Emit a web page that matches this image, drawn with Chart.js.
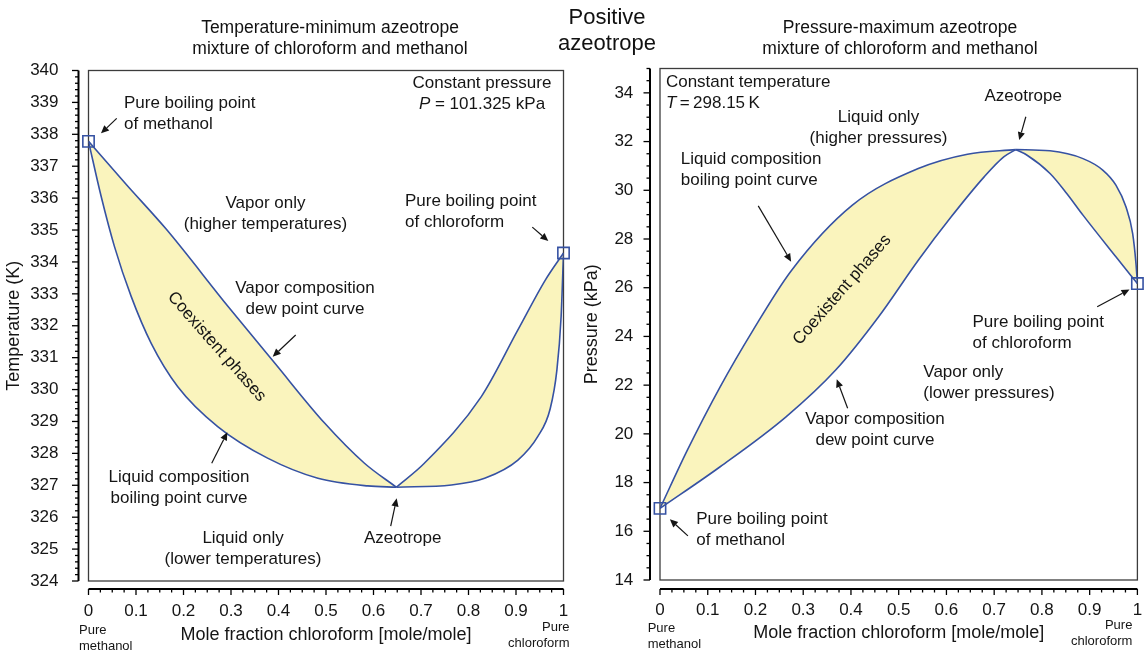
<!DOCTYPE html>
<html><head><meta charset="utf-8">
<script src="https://cdn.jsdelivr.net/npm/chart.js@4/dist/chart.umd.min.js"></script>
<style>
html,body{margin:0;padding:0;background:#fff;width:1147px;height:658px;overflow:hidden;font-family:'Liberation Sans',Arial,sans-serif;color:#111}
.t{position:absolute;text-align:center;white-space:nowrap;transform:translateX(-50%);z-index:3}
canvas{position:absolute;top:0}
#c1{left:0}
#c2{left:575px}
</style></head><body>
<canvas id="c1" width="575" height="658"></canvas>
<canvas id="c2" width="572" height="658"></canvas>
<div class="t" style="left:607px;top:4px;font-size:22px;line-height:26px">Positive<br>azeotrope</div>
<div class="t" style="left:330px;top:17px;font-size:17.5px;line-height:21px">Temperature-minimum azeotrope<br>mixture of chloroform and methanol</div>
<div class="t" style="left:900px;top:17px;font-size:17.5px;line-height:21px">Pressure-maximum azeotrope<br>mixture of chloroform and methanol</div>
<script>
// ---------- tick values / labels ----------
const xTicks = [0, 0.1, 0.2, 0.3, 0.4, 0.5, 0.6, 0.7, 0.8, 0.9, 1];
const xTickLabels = ['0', '0.1', '0.2', '0.3', '0.4', '0.5', '0.6', '0.7', '0.8', '0.9', '1'];
const tTicks = [324, 325, 326, 327, 328, 329, 330, 331, 332, 333, 334, 335, 336, 337, 338, 339, 340];
const tTickLabels = ['324', '325', '326', '327', '328', '329', '330', '331', '332', '333', '334', '335', '336', '337', '338', '339', '340'];
const pTicks = [14, 16, 18, 20, 22, 24, 26, 28, 30, 32, 34];
const pTickLabels = ['14', '16', '18', '20', '22', '24', '26', '28', '30', '32', '34'];

// ---------- left chart: T-x-y at 101.325 kPa ----------
// liquid (bubble point) curve, methanol side of azeotrope
const tLiqX_L = [0, 0.0267, 0.0547, 0.0898, 0.132, 0.188, 0.272, 0.377, 0.483, 0.588, 0.648];
const tLiqT_L = [337.78, 336.05, 334.48, 332.92, 331.45, 330.09, 328.84, 327.85, 327.22, 326.98, 326.94];
// vapor (dew point) curve, methanol side
const tVapX_L = [0, 0.080, 0.1635, 0.293, 0.392, 0.497, 0.581, 0.648];
const tVapT_L = [337.78, 336.42, 335.03, 332.62, 330.83, 328.95, 327.69, 326.94];
// liquid curve, chloroform side
const tLiqX_R = [0.648, 0.764, 0.834, 0.904, 0.946, 0.972, 0.986, 0.995, 1];
const tLiqT_R = [326.94, 327.01, 327.22, 327.79, 328.53, 329.40, 330.60, 332.29, 334.28];
// vapor curve, chloroform side
const tVapX_R = [0.648, 0.707, 0.827, 0.904, 0.962, 1];
const tVapT_R = [326.94, 327.69, 329.78, 331.87, 333.44, 334.28];
// pure component boiling points
const tPureX = [0, 1];
const tPureT = [337.78, 334.28];

// ---------- right chart: P-x-y at 298.15 K ----------
const pLiqX_L = [0, 0.0573, 0.126, 0.195, 0.275, 0.403, 0.541, 0.644, 0.745];
const pLiqP_L = [16.94, 19.33, 21.93, 24.26, 26.70, 29.39, 30.89, 31.48, 31.67];
const pVapX_L = [0, 0.126, 0.264, 0.368, 0.458, 0.541, 0.610, 0.679, 0.720, 0.745];
const pVapP_L = [16.94, 18.65, 20.70, 22.62, 24.81, 27.13, 28.91, 30.55, 31.37, 31.67];
const pLiqX_R = [0.745, 0.817, 0.886, 0.928, 0.955, 0.976, 0.990, 0.997, 1];
const pLiqP_R = [31.67, 31.62, 31.30, 30.82, 30.21, 29.32, 28.23, 27.0, 26.17];
const pVapX_R = [0.745, 0.769, 0.817, 0.852, 0.886, 0.955, 1];
const pVapP_R = [31.67, 31.44, 30.69, 29.87, 28.98, 27.27, 26.17];
const pPureX = [0, 1];
const pPureP = [16.94, 26.17];

// ---------- annotations (data coordinates) ----------
const tNotes = [
  {lines: ['Pure boiling point', 'of methanol'], x: 0.0747, y: 338.64, align: 'left'},
  {lines: ['Constant pressure', [['P', 'italic '], [' = 101.325 kPa', '']]], x: 0.8284, y: 339.26, align: 'center'},
  {lines: ['Vapor only', '(higher temperatures)'], x: 0.3726, y: 335.51, align: 'center'},
  {lines: ['Pure boiling point', 'of chloroform'], x: 0.6663, y: 335.56, align: 'left'},
  {lines: ['Vapor composition', 'dew point curve'], x: 0.4558, y: 332.84, align: 'center'},
  {lines: ['Coexistent phases'], x: 0.2699, y: 331.34, align: 'center', rot: 48.7},
  {lines: ['Liquid composition', 'boiling point curve'], x: 0.1905, y: 326.91, align: 'center'},
  {lines: ['Liquid only', '(lower temperatures)'], x: 0.3253, y: 325.01, align: 'center'},
  {lines: ['Azeotrope'], x: 0.6615, y: 325.34, align: 'center'}
];
const tArrows = [
  [0.0594, 338.50, 0.0263, 338.03],
  [0.9343, 335.09, 0.968, 334.66],
  [0.4362, 331.71, 0.3878, 331.03],
  [0.2594, 327.69, 0.2922, 328.66],
  [0.6362, 325.72, 0.6488, 326.59]
];
const pNotes = [
  {lines: ['Constant temperature', [['T', 'italic '], ['\u2009=\u2009298.15\u2009K', '']]], x: 0.0124, y: 33.99, align: 'left'},
  {lines: ['Liquid only', '(higher pressures)'], x: 0.4577, y: 32.55, align: 'center'},
  {lines: ['Azeotrope'], x: 0.7607, y: 33.87, align: 'center'},
  {lines: ['Liquid composition', 'boiling point curve'], x: 0.0434, y: 30.85, align: 'left'},
  {lines: ['Coexistent phases'], x: 0.3816, y: 25.91, align: 'center', rot: -49},
  {lines: ['Pure boiling point', 'of chloroform'], x: 0.6546, y: 24.14, align: 'left'},
  {lines: ['Vapor only', '(lower pressures)'], x: 0.5516, y: 22.09, align: 'left'},
  {lines: ['Vapor composition', 'dew point curve'], x: 0.4503, y: 20.15, align: 'center'},
  {lines: ['Pure boiling point', 'of methanol'], x: 0.0759, y: 16.04, align: 'left'}
];
const pArrows = [
  [0.7663, 33.02, 0.7524, 32.06],
  [0.2058, 29.36, 0.2747, 27.07],
  [0.9158, 25.22, 0.9835, 25.93],
  [0.3930, 21.05, 0.3702, 22.24],
  [0.0585, 15.81, 0.0207, 16.49]
];

// ---------- styling ----------
const FAM = "'Liberation Sans', Arial, sans-serif";
const BLUE = '#3652a3';
const FILL = '#faf4bd';
const INK = '#151515';
Chart.defaults.font.family = FAM;

function pts(xs, ys) { return xs.map((x, i) => ({x: x, y: ys[i]})); }

function curve(xs, ys, fill) {
  return {data: pts(xs, ys), borderColor: BLUE, borderWidth: 1.6, pointRadius: 0,
    cubicInterpolationMode: 'monotone', fill: fill ? '+1' : false, backgroundColor: FILL};
}
function squares(xs, ys) {
  return {data: pts(xs, ys), showLine: false, pointStyle: 'rect', pointRadius: 8,
    pointBorderColor: BLUE, pointBackgroundColor: 'rgba(0,0,0,0)', pointBorderWidth: 1.6, clip: false};
}

const deco = {
  id: 'deco',
  beforeDraw(chart) {
    const ctx = chart.ctx, ca = chart.chartArea;
    ctx.save();
    ctx.strokeStyle = '#3c3c3c'; ctx.lineWidth = 1.3;
    ctx.strokeRect(ca.left, ca.top, ca.right - ca.left, ca.bottom - ca.top);
    ctx.restore();
  },
  afterDraw(chart, args, o) {
    const ctx = chart.ctx, ca = chart.chartArea, xs = chart.scales.x, ys = chart.scales.y;
    ctx.save();
    // y axis (offset)
    const ax = ca.left - o.yGap;
    ctx.strokeStyle = '#000'; ctx.lineWidth = 2;
    ctx.beginPath(); ctx.moveTo(ax, ca.top); ctx.lineTo(ax, ca.bottom); ctx.stroke();
    ctx.lineWidth = 1.3;
    const nY = Math.round((ys.max - ys.min) / o.yMinor);
    for (let i = 0; i <= nY; i++) {
      const v = ys.min + i * o.yMinor;
      const major = o.yMajor.some(m => Math.abs(m - v) < 1e-6);
      const p = ys.getPixelForValue(v);
      ctx.beginPath(); ctx.moveTo(ax, p); ctx.lineTo(ax - (major ? 6.5 : 3.5), p); ctx.stroke();
    }
    // x axis (offset)
    const ay = ca.bottom + o.xGap;
    ctx.lineWidth = 2;
    ctx.beginPath(); ctx.moveTo(ca.left, ay); ctx.lineTo(ca.right, ay); ctx.stroke();
    ctx.lineWidth = 1.3;
    const nX = Math.round((xs.max - xs.min) / o.xMinor);
    for (let i = 0; i <= nX; i++) {
      const v = xs.min + i * o.xMinor;
      const major = xTicks.some(m => Math.abs(m - v) < 1e-6);
      const p = xs.getPixelForValue(v);
      ctx.beginPath(); ctx.moveTo(p, ay); ctx.lineTo(p, ay + (major ? 6 : 3.5)); ctx.stroke();
    }
    // small end labels
    ctx.fillStyle = INK; ctx.font = '13px ' + FAM; ctx.textBaseline = 'middle';
    ctx.textAlign = 'left';
    o.pureLeft.lines.forEach((s, i) => ctx.fillText(s, xs.getPixelForValue(0) + o.pureLeft.dx, o.pureLeft.y + i * 16));
    ctx.textAlign = 'right';
    o.pureRight.lines.forEach((s, i) => ctx.fillText(s, xs.getPixelForValue(1) + o.pureRight.dx, o.pureRight.y + i * 16));
    // annotations
    const LH = 21;
    o.notes.forEach(n => {
      const px = xs.getPixelForValue(n.x), py = ys.getPixelForValue(n.y);
      ctx.save();
      ctx.translate(px, py);
      if (n.rot) ctx.rotate(n.rot * Math.PI / 180);
      const y0 = -(n.lines.length - 1) * LH / 2;
      n.lines.forEach((ln, i) => {
        const segs = typeof ln === 'string' ? [[ln, '']] : ln;
        let w = 0;
        segs.forEach(sg => { ctx.font = sg[1] + '17px ' + FAM; w += ctx.measureText(sg[0]).width; });
        let x = n.align === 'center' ? -w / 2 : 0;
        ctx.textAlign = 'left';
        segs.forEach(sg => {
          ctx.font = sg[1] + '17px ' + FAM;
          ctx.fillText(sg[0], x, y0 + i * LH);
          x += ctx.measureText(sg[0]).width;
        });
      });
      ctx.restore();
    });
    // arrows
    ctx.strokeStyle = INK; ctx.fillStyle = INK; ctx.lineWidth = 1.2;
    o.arrows.forEach(a => {
      const x1 = xs.getPixelForValue(a[0]), y1 = ys.getPixelForValue(a[1]);
      const x2 = xs.getPixelForValue(a[2]), y2 = ys.getPixelForValue(a[3]);
      const ang = Math.atan2(y2 - y1, x2 - x1), L = 8, W = 3.6;
      const bx = x2 - L * Math.cos(ang), by = y2 - L * Math.sin(ang);
      ctx.beginPath(); ctx.moveTo(x1, y1); ctx.lineTo(bx, by); ctx.stroke();
      ctx.beginPath();
      ctx.moveTo(x2, y2);
      ctx.lineTo(bx + W * Math.sin(ang), by - W * Math.cos(ang));
      ctx.lineTo(bx - W * Math.sin(ang), by + W * Math.cos(ang));
      ctx.closePath(); ctx.fill();
    });
    ctx.restore();
  }
};

function makeChart(id, c) {
  return new Chart(document.getElementById(id), {
    type: 'line',
    data: {datasets: c.datasets},
    options: {
      responsive: false, animation: false, devicePixelRatio: 1,
      layout: {padding: {top: c.top, right: c.right, bottom: 0, left: 0}},
      plugins: {legend: {display: false}, tooltip: {enabled: false},
        filler: {drawTime: 'beforeDatasetsDraw'}, deco: c.deco},
      scales: {
        x: {
          type: 'linear', min: 0, max: 1,
          grid: {display: false, drawTicks: false}, border: {display: false},
          afterBuildTicks: s => { s.ticks = xTicks.map(v => ({value: v})); },
          ticks: {autoSkip: false, maxRotation: 0, minRotation: 0, padding: c.xPad, color: INK,
            font: {size: 17}, callback: v => xTickLabels[xTicks.indexOf(v)]},
          title: {display: true, text: 'Mole fraction chloroform [mole/mole]', color: INK,
            font: {size: 18}, padding: {top: 0, bottom: c.xtPad}},
          afterFit: s => { s.height = c.xH; s.paddingLeft = 0; s.paddingRight = 0; }
        },
        y: {
          type: 'linear', min: c.yMin, max: c.yMax,
          grid: {display: false, drawTicks: false}, border: {display: false},
          afterBuildTicks: s => { s.ticks = c.yTicks.map(v => ({value: v})); },
          ticks: {autoSkip: false, padding: c.yPad, color: INK, font: {size: 17},
            callback: v => c.yLabels[c.yTicks.indexOf(v)]},
          title: {display: true, text: c.yTitle, color: INK, font: {size: 18}, padding: {top: c.ytPad, bottom: 0}},
          afterFit: s => { s.width = c.yW; s.paddingTop = 0; s.paddingBottom = 0; }
        }
      }
    },
    plugins: [deco]
  });
}

makeChart('c1', {
  datasets: [
    curve(tLiqX_L, tLiqT_L, true), curve(tVapX_L, tVapT_L, false),
    curve(tLiqX_R, tLiqT_R, true), curve(tVapX_R, tVapT_R, false),
    squares(tPureX, tPureT)
  ],
  top: 70.5, right: 11.5, xH: 77, yW: 88.5, xPad: 19.8, yPad: 30, xtPad: 12.2, ytPad: 3.2,
  yMin: 324, yMax: 340, yTicks: tTicks, yLabels: tTickLabels, yTitle: 'Temperature (K)',
  deco: {yGap: 10, xGap: 8, yMinor: 0.2, xMinor: 0.025, yMajor: tTicks,
    pureLeft: {lines: ['Pure', 'methanol'], dx: -9.5, y: 630.5},
    pureRight: {lines: ['Pure', 'chloroform'], dx: 6, y: 627.5},
    notes: tNotes, arrows: tArrows}
});

makeChart('c2', {
  datasets: [
    curve(pLiqX_L, pLiqP_L, true), curve(pVapX_L, pVapP_L, false),
    curve(pLiqX_R, pLiqP_R, true), curve(pVapX_R, pVapP_R, false),
    squares(pPureX, pPureP)
  ],
  top: 68.5, right: 3.5, xH: 78, yW: 85, xPad: 20.5, yPad: 26.7, xtPad: 13.9, ytPad: 6.2,
  yMin: 14, yMax: 35, yTicks: pTicks, yLabels: pTickLabels, yTitle: 'Pressure (kPa)',
  deco: {yGap: 10, xGap: 9, yMinor: 0.5, xMinor: 0.025, yMajor: pTicks,
    pureLeft: {lines: ['Pure', 'methanol'], dx: -12.3, y: 628.5},
    pureRight: {lines: ['Pure', 'chloroform'], dx: -5, y: 625.7},
    notes: pNotes, arrows: pArrows}
});
</script>
</body></html>
